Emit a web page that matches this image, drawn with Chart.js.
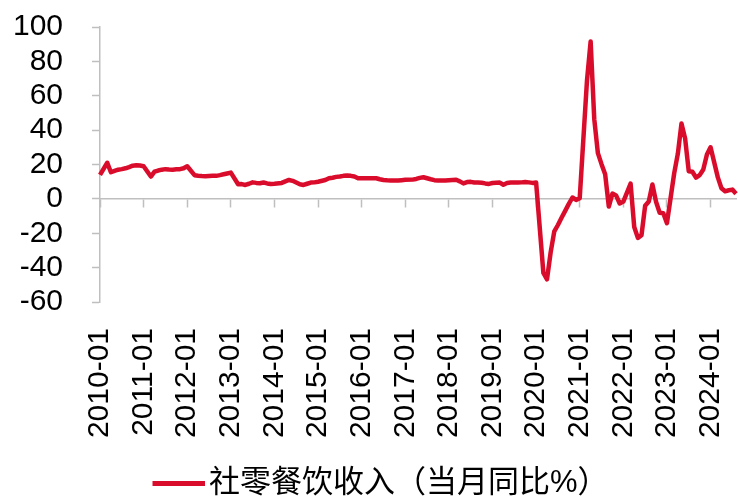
<!DOCTYPE html>
<html>
<head>
<meta charset="utf-8">
<script src="https://cdn.jsdelivr.net/npm/chart.js@4/dist/chart.umd.min.js"></script>
<style>
  body { margin: 0; background: #fff; }
  #wrap { width: 738px; height: 500px; }
</style>
</head>
<body>
<div id="wrap"><canvas id="lineChart" width="738" height="500"></canvas></div>
<script>
// months shown on the axis, one label per January
const years = [2010, 2011, 2012, 2013, 2014, 2015, 2016, 2017, 2018, 2019, 2020, 2021, 2022, 2023, 2024];
const monthsInLastYear = 8;

// 社零餐饮收入 当月同比 (%), one row per year, Jan has no own figure
const v2010 = [14, null, 21, 15.5, 16.3, 17, 17.3, 17.8, 18.5, 19.3, 19.6, 19.4];
const v2011 = [19, null, 13, 15.8, 16.5, 17, 17.3, 17.1, 17, 17.2, 17.3, 17.8];
const v2012 = [19, null, 13.8, 13.5, 13.3, 13.2, 13.3, 13.4, 13.4, 13.8, 14.3, 14.8];
const v2013 = [15.3, null, 8.5, 8.6, 8.1, 8.8, 9.6, 9.3, 9.1, 9.5, 9.0, 8.7];
const v2014 = [8.8, null, 9.3, 10.2, 11.0, 10.5, 9.5, 8.5, 8.1, 8.8, 9.5, 9.6];
const v2015 = [10.0, null, 11.0, 12.0, 12.3, 12.8, 13.0, 13.4, 13.6, 13.4, 13.0, 12.0];
const v2016 = [12.0, null, 12.0, 12.0, 12.0, 11.4, 11.0, 10.8, 10.7, 10.7, 10.7, 10.9];
const v2017 = [11.1, null, 11.2, 11.6, 12.2, 12.6, 12.0, 11.4, 10.9, 10.7, 10.7, 10.7];
const v2018 = [10.9, null, 11.1, 10.2, 9.0, 9.8, 9.9, 9.5, 9.5, 9.4, 9.0, 8.7];
const v2019 = [9.2, null, 9.5, 8.2, 9.2, 9.5, 9.5, 9.5, 9.6, 9.8, 9.6, 9.3];
const v2020 = [9.5, null, -43.1, -46.8, -31.1, -18.9, -15.2, -11.0, -7.0, -2.9, 0.8, -0.6];
const v2021 = [0.4, null, 68.9, 91.6, 46.4, 26.6, 20.2, 14.3, -4.5, 3.1, 2.0, -2.7];
const v2022 = [-1.6, null, 8.9, -16.4, -22.7, -21.1, -4.0, -1.5, 8.4, -1.7, -8.1, -8.4];
const v2023 = [-14.1, null, 15.0, 26.3, 43.8, 35.1, 16.1, 15.8, 12.4, 13.8, 17.1, 25.8];
const v2024 = [30.0, null, 12.5, 6.2, 4.4, 5.0, 5.4, 3.0];

const seriesName = '社零餐饮收入（当月同比%）';
const yTicks = [-60, -40, -20, 0, 20, 40, 60, 80, 100];

const months = [];
years.forEach((y, k) => {
    const n = k === years.length - 1 ? monthsInLastYear : 12;
    for (let m = 1; m <= n; m++) months.push(y + '-' + String(m).padStart(2, '0'));
});
const values = [].concat(v2010, v2011, v2012, v2013, v2014, v2015, v2016, v2017,
    v2018, v2019, v2020, v2021, v2022, v2023, v2024);

const red = '#DA0C2C';
const axisGrey = '#BFBFBF';

Chart.defaults.font.family = 'Arial, "Liberation Sans", "Noto Sans CJK SC", sans-serif';
Chart.defaults.font.size = 30;
Chart.defaults.color = '#000';

// short red bar used as the legend marker (drawn on the right part of a wider sprite)
const marker = document.createElement('canvas');
marker.width = 77;
marker.height = 5;
const mctx = marker.getContext('2d');
mctx.fillStyle = red;
mctx.fillRect(24, 0, 53, 5);

const ctx = document.getElementById('lineChart').getContext('2d');
const lineChart = new Chart(ctx, {
    type: 'line',
    data: {
        labels: months,
        datasets: [{
            label: seriesName,
            data: values,
            borderColor: red,
            backgroundColor: red,
            borderWidth: 4.5,
            borderJoinStyle: 'round',
            pointRadius: 0,
            tension: 0,
            spanGaps: true
        }]
    },
    options: {
        responsive: false,
        animation: false,
        layout: { padding: { top: 27, left: 13, right: 2, bottom: -9 } },
        plugins: {
            tooltip: { enabled: false },
            legend: {
                position: 'bottom',
                labels: {
                    usePointStyle: true,
                    pointStyle: marker,
                    pointStyleWidth: 53,
                    padding: 30,
                    font: { size: 31 }
                }
            }
        },
        scales: {
            x: {
                grid: { display: false, drawTicks: false },
                border: { display: false },
                ticks: {
                    autoSkip: false,
                    minRotation: 90,
                    maxRotation: 90,
                    padding: 26,
                    callback: function (val) {
                        const lab = this.getLabelForValue(val);
                        return lab.endsWith('-01') ? lab : '';
                    }
                },
                afterFit: (s) => { s.height = 136; s.paddingLeft = 0; s.paddingRight = 0; }
            },
            x0: {
                type: 'category',
                axis: 'x',
                position: { y: 0 },
                ticks: { display: false },
                border: { display: true, color: axisGrey, width: 1.5 },
                grid: {
                    drawOnChartArea: false,
                    drawTicks: true,
                    tickLength: 8,
                    tickWidth: 1.5,
                    tickColor: (c) => (c.index % 12 === 0 ? axisGrey : 'rgba(0,0,0,0)')
                }
            },
            y: {
                min: yTicks[0],
                max: yTicks[yTicks.length - 1],
                border: { display: true, color: axisGrey, width: 1.5 },
                grid: {
                    drawOnChartArea: false,
                    drawTicks: true,
                    tickLength: 8,
                    tickWidth: 1.5,
                    tickColor: axisGrey
                },
                ticks: { stepSize: 20, padding: 29, autoSkip: false },
                afterBuildTicks: (s) => { s.ticks = yTicks.map(v => ({ value: v })); },
                afterFit: (s) => { s.width = 87; s.paddingTop = 0; s.paddingBottom = 0; }
            }
        }
    }
});
</script>
</body>
</html>
